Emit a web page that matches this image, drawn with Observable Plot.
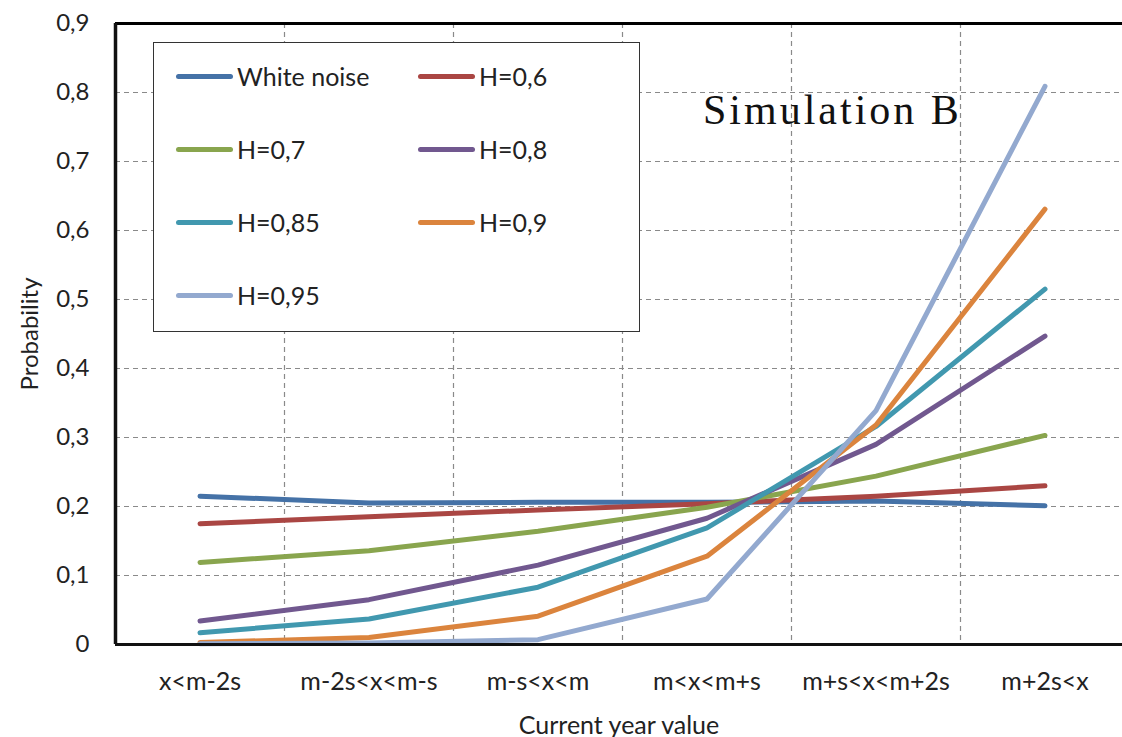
<!DOCTYPE html>
<html>
<head>
<meta charset="utf-8">
<script src="https://cdn.jsdelivr.net/npm/d3@7"></script>
<script src="https://cdn.jsdelivr.net/npm/@observablehq/plot@0.6"></script>
<style>
  html, body { margin: 0; padding: 0; background: #fff; overflow: hidden; }
  #wrap { position: relative; width: 1122px; height: 737px; }
  #legend {
    position: absolute; left: 153px; top: 42px; width: 485px; height: 288px;
    border: 1.5px solid #333; background: #fff; box-sizing: content-box;
    font-family: Lato, sans-serif; font-size: 25px; color: #222;
  }
  .item { position: absolute; display: flex; align-items: center; height: 30px; }
  .sw { width: 57px; height: 5px; border-radius: 3px; margin-right: 4px; }
  #title {
    position: absolute; left: 703px; top: 86px;
    font-family: "Liberation Serif", serif; font-size: 42px; letter-spacing: 3px; color: #111;
  }
</style>
</head>
<body>
<div id="wrap"></div>
<script>
const categories = ["x<m-2s", "m-2s<x<m-s", "m-s<x<m", "m<x<m+s", "m+s<x<m+2s", "m+2s<x"];
const seriesNames = ["White noise", "H=0,6", "H=0,7", "H=0,8", "H=0,85", "H=0,9", "H=0,95"];
const colors = ["#4572A7", "#AA4643", "#89A54E", "#71588F", "#4198AF", "#DB843D", "#93A9CF"];
const whiteNoise = [0.215, 0.205, 0.206, 0.206, 0.208, 0.201];
const h060 = [0.175, 0.185, 0.195, 0.204, 0.215, 0.230];
const h070 = [0.119, 0.136, 0.164, 0.199, 0.244, 0.303];
const h080 = [0.034, 0.065, 0.115, 0.183, 0.290, 0.447];
const h085 = [0.017, 0.037, 0.083, 0.169, 0.316, 0.515];
const h090 = [0.003, 0.010, 0.041, 0.128, 0.318, 0.631];
const h095 = [0.001, 0.002, 0.007, 0.066, 0.339, 0.809];
const yTicks = [0, 0.1, 0.2, 0.3, 0.4, 0.5, 0.6, 0.7, 0.8, 0.9];
const yLabel = "Probability";
const xLabel = "Current year value";
const chartTitle = "Simulation B";

const allSeries = [whiteNoise, h060, h070, h080, h085, h090, h095];
const rows = [];
allSeries.forEach((vals, s) => vals.forEach((v, i) => rows.push({series: seriesNames[s], x: i + 0.5, v})));
const xCenters = categories.map((c, i) => i + 0.5);
const boundaries = categories.map((c, i) => i).filter(i => i > 0);

const fmt = d => d === 0 ? "0" : d.toFixed(1).replace(".", ",");

const chart = Plot.plot({
  width: 1122, height: 737,
  marginLeft: 115, marginRight: 0, marginTop: 23, marginBottom: 93,
  x: {domain: [0, categories.length], range: [115, 1129]},
  y: {domain: [0, 0.9]},
  color: {domain: seriesNames, range: colors},
  style: {fontFamily: "Lato, sans-serif", fontSize: "24px", color: "#222", background: "#fff"},
  marks: [
    Plot.ruleY(yTicks.filter(d => d > 0 && d < 0.9), {stroke: "#8a8a8a", strokeWidth: 1.2, strokeDasharray: "5,4"}),
    Plot.ruleX(boundaries, {stroke: "#8a8a8a", strokeWidth: 1.2, strokeDasharray: "5,4"}),
    Plot.axisY({ticks: yTicks, tickSize: 0, tickPadding: 26, tickFormat: fmt, fontSize: 24,
      label: yLabel, labelArrow: "none", labelAnchor: "center", labelOffset: 95}),
    Plot.axisX({ticks: xCenters, tickSize: 0, tickPadding: 28, fontSize: 25,
      tickFormat: d => categories[Math.floor(d)], label: xLabel, labelArrow: "none", labelAnchor: "center", labelOffset: 89}),
    Plot.line(rows, {x: "x", y: "v", z: "series", stroke: "series", strokeWidth: 5, strokeLinecap: "round", strokeLinejoin: "round"}),
    Plot.ruleY([0.9], {stroke: "#000", strokeWidth: 3}),
    Plot.ruleY([0], {stroke: "#111", strokeWidth: 3}),
    Plot.ruleX([0], {stroke: "#111", strokeWidth: 3.5})
  ]
});

const wrap = document.getElementById("wrap");
wrap.appendChild(chart);

const legend = document.createElement("div");
legend.id = "legend";
seriesNames.forEach((name, i) => {
  const item = document.createElement("div");
  item.className = "item";
  const col = i % 2, row = Math.floor(i / 2);
  item.style.left = (22 + col * 242) + "px";
  item.style.top = (18 + row * 73) + "px";
  const sw = document.createElement("div");
  sw.className = "sw";
  sw.style.background = colors[i];
  const t = document.createElement("span");
  t.textContent = name;
  item.appendChild(sw); item.appendChild(t);
  legend.appendChild(item);
});
wrap.appendChild(legend);

const title = document.createElement("div");
title.id = "title";
title.textContent = chartTitle;
wrap.appendChild(title);
</script>
</body>
</html>
